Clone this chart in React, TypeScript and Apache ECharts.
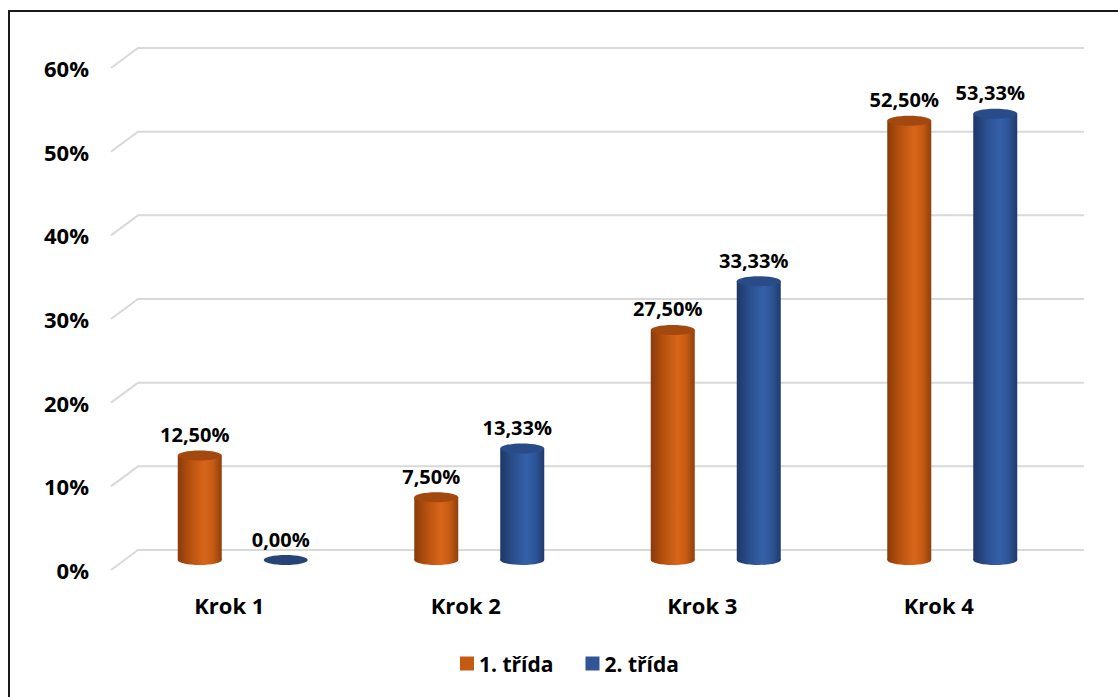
import React, { useEffect, useRef } from "react";
import * as echarts from "echarts";

// Share of pupils per step, for each class (percent)
const categories = ["Krok 1", "Krok 2", "Krok 3", "Krok 4"];
const seriesNames = ["1. třída", "2. třída"];
const trida1 = [12.5, 7.5, 27.5, 52.5];
const trida2 = [0, 13.33, 33.33, 53.33];
const yTicks = [0, 10, 20, 30, 40, 50, 60];

const FONT = "'Open Sans', 'Liberation Sans', sans-serif";

// Depth offset of the back wall relative to the front edge of the floor
const DEPTH_X = 27;
const DEPTH_Y = -20;

const palette = [
  {
    legend: "#C55A11",
    stops: ["#8A3B0B", "#B9520F", "#D8661A", "#C75B13", "#8F400C"],
    top: "#A3480F",
  },
  {
    legend: "#2F5597",
    stops: ["#1E3766", "#2B4F8F", "#3560A8", "#2E5598", "#1F3A6C"],
    top: "#294C89",
  },
];

const fmt = (v: number) => v.toFixed(2).replace(".", ",") + "%";

function cylinder(idx: number) {
  const side = idx === 0 ? -43 : 43;
  const col = palette[idx];
  const grad = () =>
    new echarts.graphic.LinearGradient(0, 0, 1, 0, [
      { offset: 0, color: col.stops[0] },
      { offset: 0.3, color: col.stops[1] },
      { offset: 0.6, color: col.stops[2] },
      { offset: 0.8, color: col.stops[3] },
      { offset: 1, color: col.stops[4] },
    ]);
  return (params: any, api: any) => {
    const base = api.coord([api.value(0), 0]);
    const top = api.coord([api.value(0), api.value(1)]);
    const cx = base[0] + DEPTH_X / 2 + side;
    const bottomY = base[1] + DEPTH_Y / 2;
    const topY = top[1] + DEPTH_Y / 2;
    const w = 44;
    const ry = 5;
    const children: any[] = [];
    if (bottomY - topY > 0.5) {
      children.push({
        type: "ellipse",
        shape: { cx, cy: bottomY, rx: w / 2, ry },
        style: { fill: grad() },
      });
      children.push({
        type: "rect",
        shape: { x: cx - w / 2, y: topY, width: w, height: bottomY - topY },
        style: { fill: grad() },
      });
    }
    children.push({
      type: "ellipse",
      shape: { cx, cy: topY, rx: w / 2, ry },
      style: { fill: bottomY - topY > 0.5 ? col.top : "#264478" },
    });
    children.push({
      type: "text",
      x: cx - 5,
      y: topY - 21,
      style: {
        text: fmt(api.value(1)),
        fill: "#000",
        font: `bold 20px ${FONT}`,
        align: "center",
        verticalAlign: "middle",
      },
    });
    return { type: "group", children };
  };
}

export default function App() {
  const ref = useRef<HTMLDivElement>(null);

  useEffect(() => {
    if (!ref.current) return;
    const chart = echarts.init(ref.current, null, { renderer: "svg" });

    const option: any = {
      animation: false,
      backgroundColor: "#fff",
      grid: { left: 111, top: 68, width: 946, height: 502 },
      xAxis: {
        type: "category",
        data: categories,
        axisLine: { show: false },
        axisTick: { show: false },
        axisLabel: {
          margin: 24,
          color: "#000",
          fontFamily: FONT,
          fontWeight: "bold",
          fontSize: 22,
        },
      },
      yAxis: {
        type: "value",
        min: 0,
        max: 60,
        interval: 10,
        splitLine: { show: false },
        axisLine: { show: false },
        axisTick: { show: false },
        axisLabel: {
          formatter: "{value}%",
          margin: 22,
          color: "#000",
          fontFamily: FONT,
          fontWeight: "bold",
          fontSize: 22,
          padding: [5, 0, 0, 0],
        },
      },
      legend: {
        data: seriesNames,
        left: 460,
        top: 653,
        padding: 0,
        icon: "rect",
        itemWidth: 14,
        itemHeight: 14,
        itemGap: 32,
        textStyle: {
          color: "#000",
          fontFamily: FONT,
          fontWeight: "bold",
          fontSize: 21,
        },
      },
      graphic: [
        {
          type: "line",
          shape: { x1: 8, y1: 11, x2: 1118, y2: 11 },
          style: { stroke: "#1a1a1a", lineWidth: 2 },
        },
        {
          type: "line",
          shape: { x1: 9, y1: 11, x2: 9, y2: 697 },
          style: { stroke: "#1a1a1a", lineWidth: 2 },
        },
      ],
      series: [
        {
          type: "custom",
          name: "grid",
          silent: true,
          clip: false,
          z: 1,
          data: yTicks.map((v) => [0, v]),
          encode: { x: 0, y: 1 },
          renderItem: (params: any, api: any) => {
            const cs = params.coordSys;
            const y = api.coord([0, api.value(1)])[1];
            return {
              type: "polyline",
              shape: {
                points: [
                  [cs.x, y],
                  [cs.x + DEPTH_X, y + DEPTH_Y],
                  [cs.x + cs.width + DEPTH_X, y + DEPTH_Y],
                ],
              },
              style: { stroke: "#D9D9D9", lineWidth: 2, fill: "none" },
            };
          },
        },
        {
          type: "custom",
          name: seriesNames[0],
          clip: false,
          z: 3,
          itemStyle: { color: palette[0].legend },
          data: trida1.map((v, i) => [i, v]),
          encode: { x: 0, y: 1 },
          renderItem: cylinder(0),
        },
        {
          type: "custom",
          name: seriesNames[1],
          clip: false,
          z: 3,
          itemStyle: { color: palette[1].legend },
          data: trida2.map((v, i) => [i, v]),
          encode: { x: 0, y: 1 },
          renderItem: cylinder(1),
        },
      ],
    };

    chart.setOption(option);
    return () => chart.dispose();
  }, []);

  return (
    <div
      ref={ref}
      style={{
        position: "absolute",
        left: 0,
        top: 0,
        width: 1118,
        height: 697,
        background: "#fff",
      }}
    />
  );
}
